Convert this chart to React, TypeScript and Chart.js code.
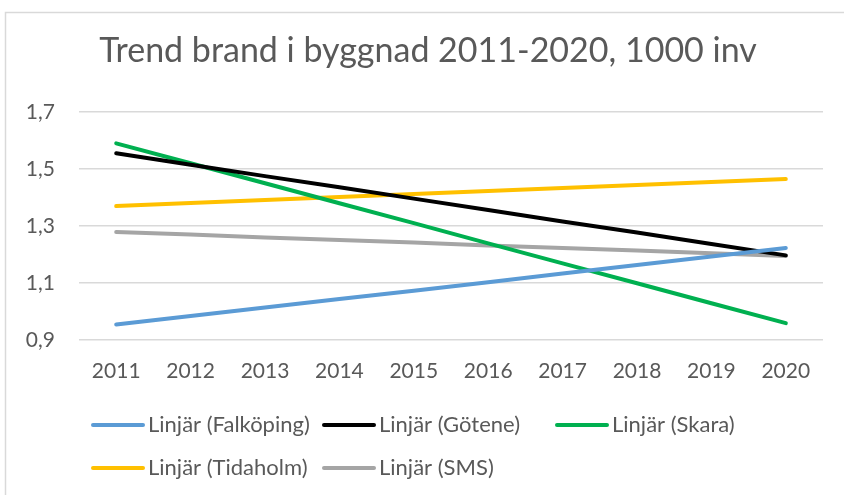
import React, { useEffect, useRef } from "react";
import { Chart, registerables } from "chart.js";

Chart.register(...registerables);

const years = ["2011", "2012", "2013", "2014", "2015", "2016", "2017", "2018", "2019", "2020"];

const falkoping = [0.954, 0.984, 1.014, 1.044, 1.073, 1.103, 1.133, 1.163, 1.193, 1.223];
const gotene = [1.555, 1.515, 1.475, 1.436, 1.396, 1.356, 1.316, 1.277, 1.237, 1.197];
const skara = [1.59, 1.52, 1.45, 1.38, 1.31, 1.239, 1.169, 1.099, 1.029, 0.959];
const tidaholm = [1.37, 1.381, 1.391, 1.402, 1.412, 1.423, 1.433, 1.444, 1.454, 1.465];
const sms = [1.279, 1.27, 1.26, 1.251, 1.242, 1.232, 1.223, 1.214, 1.204, 1.195];

const seriesLabels = [
  "Linjär (Falköping)",
  "Linjär (Götene)",
  "Linjär (Skara)",
  "Linjär (Tidaholm)",
  "Linjär (SMS)",
];
const seriesColors = ["#5B9BD5", "#000000", "#00B050", "#FFC000", "#A5A5A5"];
const seriesData = [falkoping, gotene, skara, tidaholm, sms];

const titleText = "Trend brand i byggnad 2011-2020, 1000 inv";
const yMin = 0.9;
const yMax = 1.7;
const yStep = 0.2;

const FONT = "Lato, 'Open Sans', sans-serif";
const TEXT_COLOR = "#595959";

const framePlugin = {
  id: "frame",
  beforeDraw(chart: any) {
    const { ctx, width, height } = chart;
    ctx.save();
    ctx.fillStyle = "#ffffff";
    ctx.fillRect(0, 0, width, height);
    ctx.strokeStyle = "#d9d9d9";
    ctx.lineWidth = 1.5;
    ctx.strokeRect(5.5, 12.5, width + 10, height + 10);
    ctx.restore();
  },
};

const titlePlugin = {
  id: "frameTitle",
  afterDraw(chart: any) {
    const { ctx } = chart;
    ctx.save();
    ctx.font = `34px ${FONT}`;
    ctx.fillStyle = TEXT_COLOR;
    ctx.textAlign = "center";
    ctx.textBaseline = "alphabetic";
    ctx.fillText(titleText, 428, 62);
    ctx.restore();
  },
};

const legendPlugin = {
  id: "gridLegend",
  afterDraw(chart: any) {
    const { ctx } = chart;
    const cols = [91, 322, 555];
    const rows = [425, 468];
    const sampleLen = 52;
    ctx.save();
    ctx.font = `22px ${FONT}`;
    ctx.textBaseline = "middle";
    ctx.textAlign = "left";
    chart.data.datasets.forEach((ds: any, i: number) => {
      const x = cols[i % 3];
      const y = rows[Math.floor(i / 3)];
      ctx.strokeStyle = ds.borderColor;
      ctx.lineWidth = 4;
      ctx.lineCap = "round";
      ctx.beginPath();
      ctx.moveTo(x + 2, y);
      ctx.lineTo(x + sampleLen, y);
      ctx.stroke();
      ctx.fillStyle = TEXT_COLOR;
      ctx.fillText(ds.label, x + sampleLen + 5, y);
    });
    ctx.restore();
  },
};

export default function App() {
  const ref = useRef<HTMLCanvasElement | null>(null);

  useEffect(() => {
    if (!ref.current) return;
    const chart = new Chart(ref.current, {
      type: "line",
      data: {
        labels: years,
        datasets: seriesData.map((d, i) => ({
          label: seriesLabels[i],
          data: d,
          borderColor: seriesColors[i],
          backgroundColor: seriesColors[i],
          borderWidth: 4,
          borderCapStyle: "round",
          pointRadius: 0,
          tension: 0,
          fill: false,
        })),
      },
      options: {
        animation: false,
        responsive: true,
        maintainAspectRatio: false,
        layout: { padding: { left: 0, right: 21, top: 112, bottom: 115 } },
        plugins: {
          legend: { display: false },
          tooltip: { enabled: false },
          title: { display: false },
        },
        scales: {
          x: {
            type: "category",
            offset: true,
            grid: { display: false, drawTicks: false },
            border: { display: false },
            ticks: {
              color: TEXT_COLOR,
              font: { family: FONT, size: 21 },
              padding: 19,
              maxRotation: 0,
            },
            afterFit(scale: any) {
              scale.height = 40;
            },
          },
          y: {
            min: yMin,
            max: yMax,
            grid: { color: "#d9d9d9", lineWidth: 1.5, drawTicks: false },
            border: { display: false },
            ticks: {
              stepSize: yStep,
              color: TEXT_COLOR,
              font: { family: FONT, size: 21 },
              padding: 24,
              callback: (v: any) => Number(v).toFixed(1).replace(".", ","),
            },
            afterFit(scale: any) {
              scale.width = 79;
            },
          },
        },
      },
      plugins: [framePlugin, titlePlugin, legendPlugin],
    });
    return () => chart.destroy();
  }, []);

  return (
    <div style={{ position: "absolute", left: 0, top: 0, width: 844, height: 495 }}>
      <canvas ref={ref} />
    </div>
  );
}
